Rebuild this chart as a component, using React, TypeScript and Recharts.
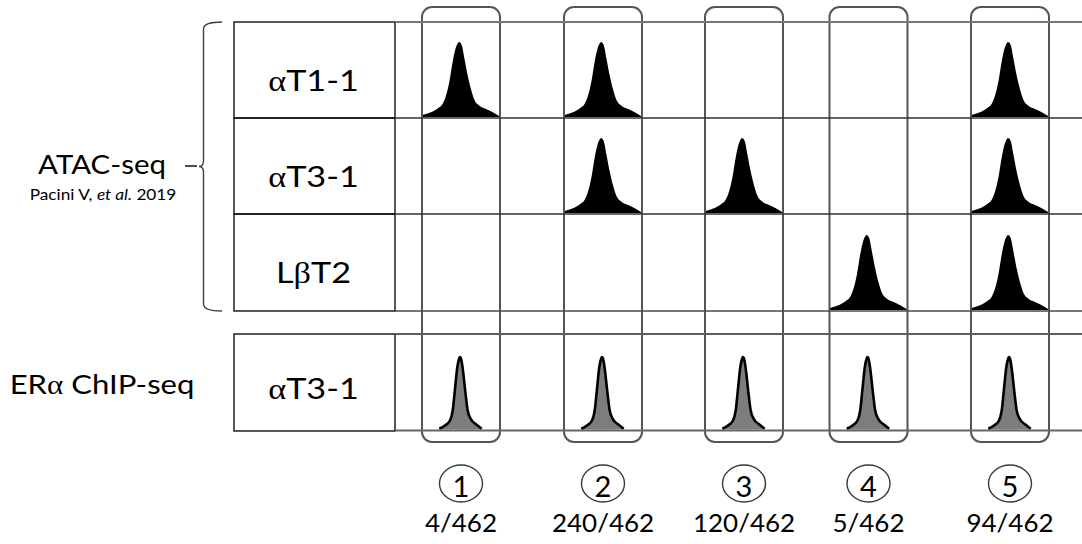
import React from 'react';
import { ComposedChart, XAxis, YAxis, Area, ReferenceLine, ReferenceArea, ReferenceDot } from 'recharts';

// ---------------- data ----------------
const groupNumbers = ['1', '2', '3', '4', '5'];
const groupCounts = ['4/462', '240/462', '120/462', '5/462', '94/462'];
const atacCellLines = ['αT1-1', 'αT3-1', 'LβT2'];
const chipCellLines = ['αT3-1'];
const assayTitles = ['ATAC-seq', 'ERα ChIP-seq'];
const atacSource = 'Pacini V, *et al.* 2019';
// peak present (1) / absent (0) per cell line (rows) and group (columns)
const atacPeaks = [
  [1, 1, 0, 0, 1],
  [0, 1, 1, 0, 1],
  [0, 0, 0, 1, 1],
];
const chipPeaks = [[1, 1, 1, 1, 1]];
// peak profiles (offset from the group centre, signal height)
const atacProfileOffset = [-38.5, -30, -23, -18, -14.8, -11.5, -8.2, -5, -3.4, -2, -0.6, 1, 3.5, 6.8, 10.2, 13.5, 18.5, 25, 31.8, 38.5];
const atacProfileHeight = [2, 4.7, 8.7, 13.7, 22, 36, 56, 70, 73.5, 75, 74.3, 71, 58, 41, 27, 17, 11.3, 8, 4.7, 0.7];
const chipProfileOffset = [-21.7, -16, -11, -8.3, -6, -3.7, -1.8, -1, -0.2, 1.3, 4, 6.7, 9.7, 15.7, 20.7];
const chipProfileHeight = [0.7, 4, 9, 19, 40.7, 62.3, 71, 72.5, 71.5, 64, 40.7, 19, 10.7, 4.7, 0.7];

// ---------------- layout ----------------
const W = 1082;
const H = 544;
const GROUP_X = [461, 603, 744, 868.5, 1010];
const BOX_HALF = 39;
const BOX_TOP = 7;
const BOX_BOTTOM = 442;
const LABEL_X0 = 234;
const LABEL_X1 = 395;
const ATAC_EDGES = [22, 118, 214, 311];
const CHIP_EDGES = [334, 431];
const FONT = "Lato, 'Open Sans', sans-serif";
const GREEK = "'Liberation Serif', 'DejaVu Serif', serif";

type Pt = { x: number; y: number };
type Peak = { id: string; base: number; kind: 'atac' | 'chip'; points: Pt[] };

const peaks: Peak[] = [];
atacPeaks.forEach((row, r) =>
  row.forEach((on, g) => {
    if (!on) return;
    const base = ATAC_EDGES[r + 1] - 1;
    peaks.push({
      id: `atac-${r}-${g}`,
      base,
      kind: 'atac',
      points: atacProfileOffset.map((dx, i) => ({ x: GROUP_X[g] + dx, y: base - atacProfileHeight[i] })),
    });
  })
);
chipPeaks.forEach((row, r) =>
  row.forEach((on, g) => {
    if (!on) return;
    const base = CHIP_EDGES[r + 1] - 1.5;
    peaks.push({
      id: `chip-${r}-${g}`,
      base,
      kind: 'chip',
      points: chipProfileOffset.map((dx, i) => ({ x: GROUP_X[g] + dx, y: base - chipProfileHeight[i] })),
    });
  })
);

// rich text: *...* italic, greek letters in serif
const renderRich = (s: string) => {
  const out: React.ReactNode[] = [];
  s.split('*').forEach((seg, si) => {
    const italic = si % 2 === 1;
    let buf = '';
    let k = 0;
    const flush = () => {
      if (buf) {
        out.push(
          <tspan key={`${si}-${k++}`} fontStyle={italic ? 'italic' : 'normal'}>
            {buf}
          </tspan>
        );
        buf = '';
      }
    };
    for (const ch of seg) {
      if (/[\u03b1-\u03c9]/.test(ch)) {
        flush();
        out.push(
          <tspan key={`${si}-${k++}`} fontFamily={GREEK} fontStyle={italic ? 'italic' : 'normal'}>
            {ch}
          </tspan>
        );
      } else buf += ch;
    }
    flush();
  });
  return out;
};

const textShape = (label: string, size: number, sx: number) => (p: any) => (
  <g transform={`translate(${p.cx},${p.cy}) scale(${sx},1)`}>
    <text x={0} y={0} textAnchor="middle" fontFamily={FONT} fontSize={size} fill="#000">
      {renderRich(label)}
    </text>
  </g>
);

const rectShape = (stroke: string, sw: number) => (p: any) => (
  <rect x={p.x} y={p.y} width={p.width} height={p.height} fill="none" stroke={stroke} strokeWidth={sw} />
);

const roundBoxShape = (p: any) => (
  <rect x={p.x} y={p.y} width={p.width} height={p.height} rx={10} ry={10} fill="none" stroke="#555" strokeWidth={2} />
);

const braceShape = (p: any) => {
  const { x, y, width: w, height: h } = p;
  const V = x + 4.5;
  const R = x + w;
  const mid = y + h / 2;
  const d = `M${R},${y} Q${V},${y} ${V},${y + 7} L${V},${mid - 6} Q${V},${mid} ${x},${mid} Q${V},${mid} ${V},${mid + 6} L${V},${y + h - 7} Q${V},${y + h} ${R},${y + h}`;
  return <path d={d} fill="none" stroke="#404040" strokeWidth={1.4} />;
};

const circleShape = (num: string) => (p: any) => (
  <g>
    <ellipse cx={p.cx} cy={p.cy} rx={21.5} ry={18.5} fill="none" stroke="#3a3a3a" strokeWidth={1.4} />
    <g transform={`translate(${p.cx},${p.cy + 13.5}) scale(1.02,1)`}>
      <text x={0} y={0} textAnchor="middle" fontFamily={FONT} fontSize={28.5} fill="#000">
        {num}
      </text>
    </g>
  </g>
);

const seg = (key: string, x0: number, x1: number, y: number, color: string, w: number) => (
  <ReferenceLine
    key={key}
    segment={[{ x: x0, y }, { x: x1, y }]}
    stroke={color}
    strokeWidth={w}
    ifOverflow="visible"
  />
);

export default function App() {
  const rowLabelX = (LABEL_X0 + LABEL_X1) / 2 - 1;
  return (
    <div style={{ position: 'absolute', left: 0, top: 0, width: W, height: H, background: '#fff' }}>
      <ComposedChart width={W} height={H} margin={{ top: 0, right: 0, bottom: 0, left: 0 }}>
        <XAxis type="number" dataKey="x" domain={[0, W]} allowDataOverflow hide />
        <YAxis type="number" dataKey="y" domain={[0, H]} allowDataOverflow reversed hide />

        {/* grid lines on the right */}
        {seg('g-top', LABEL_X1, W, ATAC_EDGES[0], '#777', 1.8)}
        {seg('g-1', LABEL_X1, W, ATAC_EDGES[1], '#333', 1.5)}
        {seg('g-2', LABEL_X1, W, ATAC_EDGES[2], '#333', 1.5)}
        {seg('g-3', LABEL_X1, W, ATAC_EDGES[3], '#4a4a4a', 1.6)}
        {seg('g-4', LABEL_X1, W, CHIP_EDGES[0], '#5e5e5e', 1.8)}
        {seg('g-5', LABEL_X1, W, CHIP_EDGES[1] - 0.5, '#666', 1.8)}

        {/* label table */}
        {atacCellLines.map((_, r) => (
          <ReferenceArea
            key={`lab-${r}`}
            x1={LABEL_X0}
            x2={LABEL_X1}
            y1={ATAC_EDGES[r]}
            y2={ATAC_EDGES[r + 1]}
            ifOverflow="visible"
            shape={rectShape('#111', 1.4)}
          />
        ))}
        {chipCellLines.map((_, r) => (
          <ReferenceArea
            key={`clab-${r}`}
            x1={LABEL_X0}
            x2={LABEL_X1}
            y1={CHIP_EDGES[r]}
            y2={CHIP_EDGES[r + 1]}
            ifOverflow="visible"
            shape={rectShape('#111', 1.4)}
          />
        ))}

        {/* peaks */}
        {peaks.map((p) => (
          <Area
            key={p.id}
            data={p.points}
            dataKey="y"
            type="monotone"
            baseValue={p.base}
            fill={p.kind === 'atac' ? '#000' : '#7f7d7b'}
            fillOpacity={1}
            stroke={p.kind === 'atac' ? 'none' : '#000'}
            strokeWidth={2.6}
            dot={false}
            activeDot={false}
            isAnimationActive={false}
          />
        ))}

        {/* rounded group boxes */}
        {GROUP_X.map((gx, g) => (
          <ReferenceArea
            key={`box-${g}`}
            x1={gx - BOX_HALF}
            x2={gx + BOX_HALF}
            y1={BOX_TOP}
            y2={BOX_BOTTOM}
            ifOverflow="visible"
            shape={roundBoxShape}
          />
        ))}

        {/* brace */}
        <ReferenceArea x1={199} x2={222} y1={ATAC_EDGES[0]} y2={ATAC_EDGES[3]} ifOverflow="visible" shape={braceShape} />
        {seg('dash', 185, 197, 166, '#000', 1.4)}

        {/* row labels */}
        {atacCellLines.map((name, r) => (
          <ReferenceDot
            key={`rl-${r}`}
            x={rowLabelX}
            y={(ATAC_EDGES[r] + ATAC_EDGES[r + 1]) / 2 + 20.5}
            r={0}
            ifOverflow="visible"
            shape={textShape(name, 29, 1.18)}
          />
        ))}
        {chipCellLines.map((name, r) => (
          <ReferenceDot
            key={`crl-${r}`}
            x={rowLabelX}
            y={(CHIP_EDGES[r] + CHIP_EDGES[r + 1]) / 2 + 16}
            r={0}
            ifOverflow="visible"
            shape={textShape(name, 29, 1.18)}
          />
        ))}

        {/* assay titles */}
        <ReferenceDot x={102} y={174} r={0} ifOverflow="visible" shape={textShape(assayTitles[0], 27, 1.09)} />
        <ReferenceDot x={103} y={199.5} r={0} ifOverflow="visible" shape={textShape(atacSource, 14.5, 1.19)} />
        <ReferenceDot x={102} y={393.5} r={0} ifOverflow="visible" shape={textShape(assayTitles[1], 27, 1.15)} />

        {/* group numbers and counts */}
        {groupNumbers.map((n, g) => (
          <ReferenceDot key={`gn-${g}`} x={GROUP_X[g]} y={483.5} r={0} ifOverflow="visible" shape={circleShape(n)} />
        ))}
        {groupCounts.map((c, g) => (
          <ReferenceDot key={`gc-${g}`} x={GROUP_X[g]} y={532} r={0} ifOverflow="visible" shape={textShape(c, 25, 1.04)} />
        ))}
      </ComposedChart>
    </div>
  );
}
